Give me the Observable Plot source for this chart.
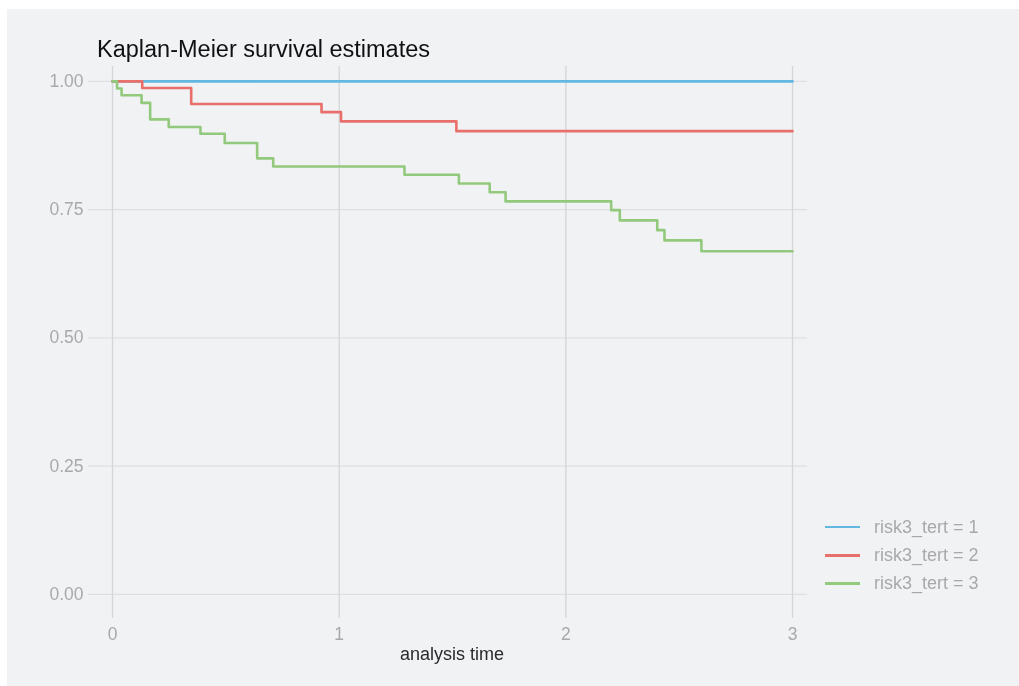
<!DOCTYPE html>
<html>
<head>
<meta charset="utf-8">
<script src="https://cdn.jsdelivr.net/npm/d3@7"></script>
<script src="https://cdn.jsdelivr.net/npm/@observablehq/plot@0.6"></script>
<style>
  html, body { margin: 0; padding: 0; background: #ffffff; overflow: hidden; }
  #panel { position: fixed; left: 7px; top: 9px; right: 0; bottom: 0; width: auto; height: auto; min-width: 1100px; min-height: 760px; background: #f1f2f4; }
  #wrap { position: relative; width: 1019px; height: 686px; font-family: "Liberation Sans", Arial, Helvetica, sans-serif; }
  #chart { position: absolute; left: 0; top: 0; }
  #title { position: absolute; left: 97px; top: 35px; font-size: 23.5px; color: #111; white-space: nowrap; line-height: 28px; }
  #xlabel { position: absolute; left: 452px; top: 644px; transform: translateX(-50%); font-size: 18px; color: #2a2a2a; white-space: nowrap; line-height: 20px; }
  #legend { position: absolute; left: 825px; top: 513px; }
  .item { display: flex; align-items: center; height: 28.3px; }
  .swatch { width: 35px; height: 2.6px; margin-right: 14px; }
  .lab { font-size: 18px; color: #a9a9a9; white-space: nowrap; }
</style>
</head>
<body>
<div id="panel"></div>
<div id="wrap">
  <div id="chart"></div>
  <div id="title">Kaplan-Meier survival estimates</div>
  <div id="xlabel">analysis time</div>
  <div id="legend"></div>
</div>
<script>
const groups = ["risk3_tert = 1", "risk3_tert = 2", "risk3_tert = 3"];
const colors = ["#62b8e1", "#e9706a", "#93c97c"];

const time1 = [0, 3];
const surv1 = [1, 1];

const time2 = [0, 0.131, 0.347, 0.922, 1.008, 1.517, 3];
const surv2 = [1, 0.987, 0.956, 0.940, 0.922, 0.903, 0.903];

const time3 = [0, 0.02, 0.04, 0.128, 0.166, 0.248, 0.388, 0.495, 0.638, 0.709, 1.288, 1.528, 1.664, 1.734, 2.20, 2.238, 2.403, 2.435, 2.598, 3];
const surv3 = [1, 0.986, 0.973, 0.958, 0.926, 0.911, 0.898, 0.880, 0.850, 0.834, 0.818, 0.801, 0.784, 0.766, 0.749, 0.729, 0.710, 0.690, 0.669, 0.669];

const xTicks = [0, 1, 2, 3];
const yTicks = [0, 0.25, 0.5, 0.75, 1];

const series = [[time1, surv1], [time2, surv2], [time3, surv3]];
const rows = [];
series.forEach(([t, s], i) => t.forEach((v, j) => rows.push({group: groups[i], time: v, surv: s[j]})));

const chart = Plot.plot({
  width: 1019,
  height: 686,
  marginLeft: 88,
  marginRight: 212,
  marginTop: 66,
  marginBottom: 68,
  style: {background: "transparent", fontFamily: "'Liberation Sans', Arial, Helvetica, sans-serif", fontSize: "17.5px", color: "#a9a9a9"},
  x: {domain: [-0.106, 3.066], label: null},
  y: {domain: [-0.047, 1.029], label: null},
  color: {domain: groups, range: colors},
  marks: [
    Plot.gridY(yTicks, {stroke: "#dedfe2", strokeOpacity: 1, strokeWidth: 1.4}),
    Plot.gridX(xTicks, {stroke: "#d6d7da", strokeOpacity: 1, strokeWidth: 1.4}),
    Plot.axisX(xTicks, {tickSize: 0, tickPadding: 9, tickFormat: d => String(d), label: null, fill: "#a9a9a9"}),
    Plot.axisY(yTicks, {tickSize: 0, tickPadding: 5, tickFormat: d => d.toFixed(2), label: null, fill: "#a9a9a9"}),
    Plot.line(rows, {x: "time", y: "surv", z: "group", stroke: "group", curve: "step-after", strokeWidth: 2.6})
  ]
});
document.getElementById("chart").appendChild(chart);

const legend = document.getElementById("legend");
groups.forEach((g, i) => {
  const item = document.createElement("div");
  item.className = "item";
  const sw = document.createElement("div");
  sw.className = "swatch";
  sw.style.background = colors[i];
  const lab = document.createElement("span");
  lab.className = "lab";
  lab.textContent = g;
  item.appendChild(sw);
  item.appendChild(lab);
  legend.appendChild(item);
});
</script>
</body>
</html>
